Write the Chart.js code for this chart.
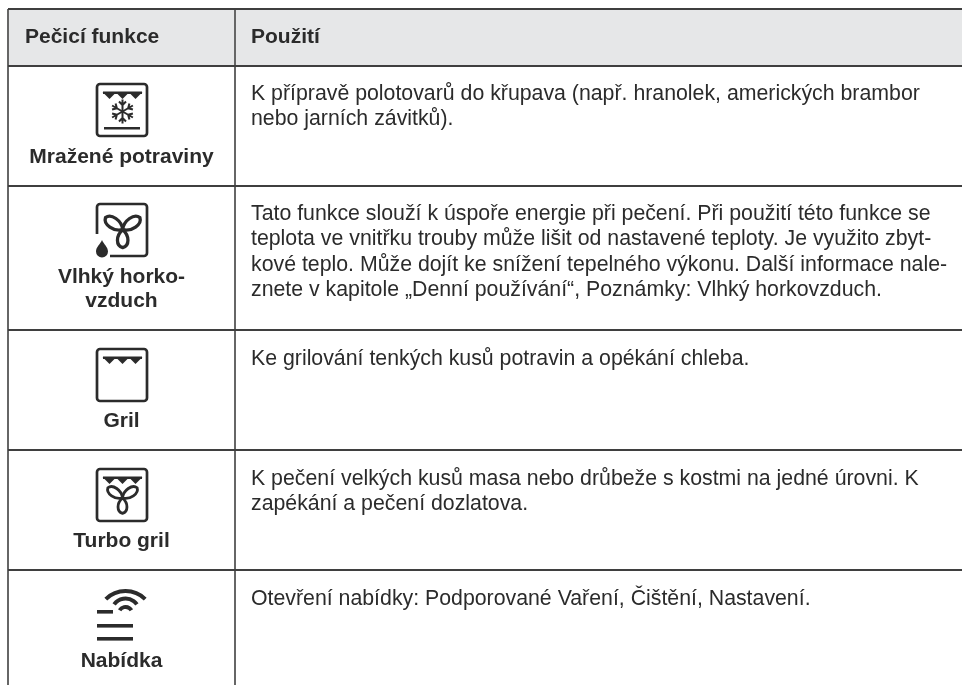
<!DOCTYPE html>
<html>
<head>
<meta charset="utf-8">
<style>
  html, body { margin: 0; padding: 0; background: #fff; }
  #wrap { width: 962px; height: 685px; }
</style>
<script src="https://cdn.jsdelivr.net/npm/chart.js@4"></script>
</head>
<body>
<div id="wrap"><canvas id="chart" width="962" height="685"></canvas></div>
<script>
// table content
const headers = ['Pečicí funkce', 'Použití'];
const functionNames = [
  ['Mražené potraviny'],
  ['Vlhký horko-', 'vzduch'],
  ['Gril'],
  ['Turbo gril'],
  ['Nabídka']
];
const usageLines = [
  ['K přípravě polotovarů do křupava (např. hranolek, amerických brambor', 'nebo jarních závitků).'],
  ['Tato funkce slouží k úspoře energie při pečení. Při použití této funkce se',
   'teplota ve vnitřku trouby může lišit od nastavené teploty. Je využito zbyt-',
   'kové teplo. Může dojít ke snížení tepelného výkonu. Další informace nale-',
   'znete v kapitole „Denní používání“, Poznámky: Vlhký horkovzduch.'],
  ['Ke grilování tenkých kusů potravin a opékání chleba.'],
  ['K pečení velkých kusů masa nebo drůbeže s kostmi na jedné úrovni. K', 'zapékání a pečení dozlatova.'],
  ['Otevření nabídky: Podporované Vaření, Čištění, Nastavení.']
];
const iconNames = ['frozen', 'moist', 'grill', 'turbo', 'menu'];

// table rules, in scale units
const columnRules = [8, 235];
const rowRules = [9, 66, 186, 330, 450, 570];

const INK = '#2b2b2b';

function box(c, gapLeft) {
  c.lineWidth = 2.7;
  c.strokeStyle = INK;
  c.beginPath();
  if (gapLeft) {
    c.moveTo(5, 35);
    c.lineTo(5, 8);
    c.arcTo(5, 5, 8, 5, 3);
    c.lineTo(52, 5);
    c.arcTo(55, 5, 55, 8, 3);
    c.lineTo(55, 54);
    c.arcTo(55, 57, 52, 57, 3);
    c.lineTo(18, 57);
  } else {
    c.roundRect(5, 5, 50, 52, 3);
  }
  c.stroke();
}

function heater(c) {
  c.fillStyle = INK;
  c.fillRect(11, 12.5, 39, 2.5);
  [17.5, 30.5, 43.5].forEach(x => {
    c.beginPath();
    c.moveTo(x - 7, 13);
    c.lineTo(x + 7, 13);
    c.lineTo(x, 20);
    c.closePath();
    c.fill();
  });
}

function snowflake(c, cx, cy) {
  c.lineWidth = 2;
  c.strokeStyle = INK;
  for (let i = 0; i < 6; i++) {
    c.save();
    c.translate(cx, cy);
    c.rotate(i * Math.PI / 3);
    c.beginPath();
    c.moveTo(0, 0);
    c.lineTo(0, -12);
    c.moveTo(-3.5, -10);
    c.lineTo(0, -6.5);
    c.lineTo(3.5, -10);
    c.stroke();
    c.restore();
  }
}

function fan(c, cx, cy, s) {
  c.lineWidth = 3.3 * s;
  c.strokeStyle = INK;
  c.lineJoin = 'round';
  [[180, 18], [55, 21], [-55, 21]].forEach(([a, len]) => {
    c.save();
    c.translate(cx, cy);
    c.rotate(a * Math.PI / 180);
    c.beginPath();
    c.moveTo(0, 0);
    c.bezierCurveTo(-7 * s, -6 * s, -7 * s, -(len - 2) * s, 0, -len * s);
    c.bezierCurveTo(7 * s, -(len - 2) * s, 7 * s, -6 * s, 0, 0);
    c.stroke();
    c.restore();
  });
}

function drop(c, cx, top) {
  c.fillStyle = INK;
  c.beginPath();
  c.moveTo(cx, top);
  c.bezierCurveTo(cx + 1.5, top + 4, cx + 6, top + 7, cx + 6, top + 11.5);
  c.arc(cx, top + 11.5, 6, 0, Math.PI);
  c.bezierCurveTo(cx - 6, top + 7, cx - 1.5, top + 4, cx, top);
  c.fill();
}

function menuIcon(c) {
  c.fillStyle = INK;
  c.fillRect(5, 28, 16, 3.6);
  c.fillRect(5, 42, 36, 3.6);
  c.fillRect(5, 55, 36, 3.6);
  c.strokeStyle = INK;
  c.lineWidth = 4;
  c.beginPath();
  c.arc(33.5, 37, 28, -Math.PI / 2 - 0.78, -Math.PI / 2 + 0.78);
  c.stroke();
  c.beginPath();
  c.arc(33.5, 30.5, 14, -Math.PI / 2 - 0.95, -Math.PI / 2 + 0.95);
  c.stroke();
  c.beginPath();
  c.arc(33.5, 32, 7, -Math.PI / 2 - 1.0, -Math.PI / 2 + 1.0);
  c.stroke();
}

function makeIcon(name) {
  const cv = document.createElement('canvas');
  cv.width = 60;
  cv.height = 62;
  const c = cv.getContext('2d');
  if (name === 'frozen') {
    box(c);
    heater(c);
    snowflake(c, 30.5, 32.5);
    c.fillStyle = INK;
    c.fillRect(12, 48, 36, 2.5);
  } else if (name === 'moist') {
    box(c, true);
    fan(c, 30.7, 30.7, 1);
    drop(c, 10, 41);
  } else if (name === 'grill') {
    box(c);
    heater(c);
  } else if (name === 'turbo') {
    box(c);
    heater(c);
    fan(c, 30.5, 34, 0.85);
  } else {
    menuIcon(c);
  }
  return cv;
}

// icon anchors for each row
const iconX = 122;
const iconY = [110, 230, 375, 495, 613];
const firstBaseline = [100, 220, 365, 485, 605];
const nameBaseline = [163, 283, 427, 547, 667];
const LINE = 25.3;

const tablePlugin = {
  id: 'tablePlugin',
  beforeDraw(chart) {
    const { ctx, scales: { x, y } } = chart;
    ctx.save();
    ctx.fillStyle = '#e6e7e8';
    const top = y.getPixelForValue(rowRules[0]);
    ctx.fillRect(x.getPixelForValue(8), top, x.getPixelForValue(962) - x.getPixelForValue(8), y.getPixelForValue(rowRules[1]) - top);
    ctx.restore();
  },
  afterDatasetsDraw(chart) {
    const { ctx, scales: { x, y } } = chart;
    ctx.save();
    ctx.fillStyle = INK;
    ctx.textBaseline = 'alphabetic';
    ctx.font = 'bold 21px "Liberation Sans"';
    ctx.textAlign = 'left';
    ctx.fillText(headers[0], x.getPixelForValue(25), y.getPixelForValue(43));
    ctx.fillText(headers[1], x.getPixelForValue(251), y.getPixelForValue(43));

    ctx.textAlign = 'center';
    functionNames.forEach((lines, i) => {
      lines.forEach((t, j) => {
        ctx.fillText(t, x.getPixelForValue(121.5), y.getPixelForValue(nameBaseline[i] + j * 24));
      });
    });

    ctx.font = '21.3px "Liberation Sans"';
    ctx.textAlign = 'left';
    usageLines.forEach((lines, i) => {
      lines.forEach((t, j) => {
        ctx.fillText(t, x.getPixelForValue(251), y.getPixelForValue(firstBaseline[i] + j * LINE));
      });
    });
    ctx.restore();
  }
};

const icons = iconNames.map(makeIcon);

new Chart(document.getElementById('chart'), {
  type: 'scatter',
  data: {
    datasets: [{
      data: iconY.map(v => ({ x: iconX, y: v })),
      pointStyle: icons,
      pointRadius: 30,
      clip: false
    }]
  },
  plugins: [tablePlugin],
  options: {
    responsive: false,
    animation: false,
    events: [],
    layout: { autoPadding: false, padding: { left: 8, top: 9, right: 0, bottom: 0 } },
    plugins: { legend: { display: false }, tooltip: { enabled: false } },
    scales: {
      x: {
        type: 'linear',
        min: 8,
        max: 962,
        afterBuildTicks: s => { s.ticks = columnRules.map(v => ({ value: v })); },
        ticks: { display: false },
        border: { display: false },
        grid: { color: '#666666', lineWidth: 2, drawTicks: false }
      },
      y: {
        type: 'linear',
        reverse: true,
        min: 9,
        max: 685,
        afterBuildTicks: s => { s.ticks = rowRules.map(v => ({ value: v })); },
        ticks: { display: false },
        border: { display: false },
        grid: { color: '#3f3f3f', lineWidth: 2, drawTicks: false }
      }
    }
  }
});
</script>
</body>
</html>
